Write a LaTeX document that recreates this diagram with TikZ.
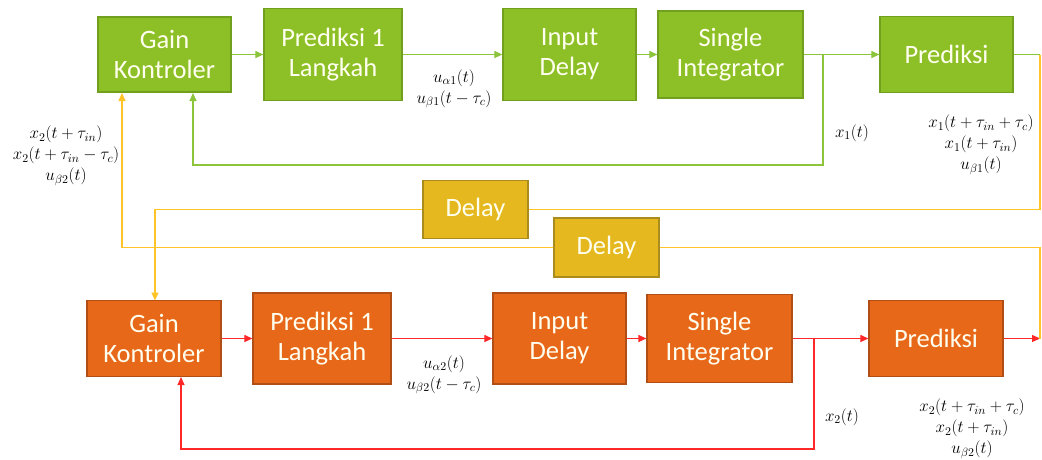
\documentclass[tikz,border=0pt]{standalone}
\usepackage{fix-cm}
\usepackage{fontspec}
\setmainfont{Carlito}
\usetikzlibrary{arrows.meta}
\definecolor{gfill}{RGB}{141,192,38}
\definecolor{gdraw}{RGB}{112,160,30}
\definecolor{ofill}{RGB}{232,104,26}
\definecolor{odraw}{RGB}{176,78,22}
\definecolor{yfill}{RGB}{228,184,30}
\definecolor{ydraw}{RGB}{170,140,30}
\definecolor{gline}{RGB}{140,196,60}
\definecolor{yline}{RGB}{255,196,40}
\definecolor{rline}{RGB}{255,40,40}
\definecolor{txt}{RGB}{255,255,240}
\begin{document}
\begin{tikzpicture}[x=1pt,y=-1pt,
  blk/.style={draw, line width=1.2pt, text=txt, align=center, inner sep=0pt,
    font=\fontsize{26.5}{30}\selectfont},
  gblk/.style={blk, fill=gfill, draw=gdraw},
  oblk/.style={blk, fill=ofill, draw=odraw},
  yblk/.style={blk, fill=yfill, draw=ydraw},
  garr/.style={draw=gline, line width=1.1pt},
  rarr/.style={draw=rline, line width=1.1pt},
  yarr/.style={draw=yline, line width=1.1pt},
  tip/.style={-{Triangle[length=8pt,width=7pt]}},
  lbl/.style={align=center, inner sep=0pt, font=\fontsize{17}{21}\selectfont}
]
\useasboundingbox (0,0) rectangle (1042,459);

% top row
\node[gblk, minimum width=133pt, minimum height=75pt] (g1) at (164.5,54.5) {Gain\\Kontroler};
\node[gblk, minimum width=138pt, minimum height=92pt] (p1) at (333,54.5) {Prediksi 1\\Langkah};
\node[gblk, minimum width=133pt, minimum height=92pt] (d1) at (569.5,54.5) {Input\\Delay};
\node[gblk, minimum width=145pt, minimum height=87pt] (s1) at (730.5,54.5) {Single\\Integrator};
\node[gblk, minimum width=133pt, minimum height=76pt] (r1) at (946.5,54.5) {Prediksi};

% bottom row
\node[oblk, minimum width=134pt, minimum height=76pt] (g2) at (154,338.5) {Gain\\Kontroler};
\node[oblk, minimum width=138pt, minimum height=91pt] (p2) at (322,338.5) {Prediksi 1\\Langkah};
\node[oblk, minimum width=133pt, minimum height=91pt] (d2) at (559.5,338.5) {Input\\Delay};
\node[oblk, minimum width=145pt, minimum height=88pt] (s2) at (719.5,338.5) {Single\\Integrator};
\node[oblk, minimum width=134pt, minimum height=76pt] (r2) at (936,338.5) {Prediksi};

% delays
\node[yblk, minimum width=105pt, minimum height=58pt] (dl1) at (475.5,209.5) {Delay};
\node[yblk, minimum width=105pt, minimum height=59pt] (dl2) at (606.5,247.5) {Delay};

% coordinates
\coordinate (b1) at (823,54.5);
\coordinate (b2) at (814,338.5);
\coordinate (e1) at (1040,54.5);
\coordinate (e2) at (1040,338.5);

% green connectors
\draw[garr, tip] (g1) -- (p1);
\draw[garr, tip] (p1) -- (d1);
\draw[garr, tip] (d1) -- (s1);
\draw[garr, tip] (s1) -- (r1);
\draw[garr] (r1) -- (e1);
\draw[garr, tip] (b1) -- (823,165) -- (193,165) -- (193,93);

% red connectors
\draw[rarr, tip] (g2) -- (p2);
\draw[rarr, tip] (p2) -- (d2);
\draw[rarr, tip] (d2) -- (s2);
\draw[rarr, tip] (s2) -- (r2);
\draw[rarr, tip] (r2) -- (e2);
\draw[rarr, tip] (b2) -- (814,449) -- (181,449) -- (181,377);

% yellow connectors
\draw[yarr] (e1) -- (1040,209.5) -- (dl1);
\draw[yarr, tip] (dl1) -- (155,209.5) -- (155,300.5);
\draw[yarr] (e2) -- (1040,247.5) -- (dl2);
\draw[yarr, tip] (dl2) -- (122,247.5) -- (122,93);

% labels
\node[lbl] (l1) at (454,89) {$u_{\alpha1}(t)$\\$u_{\beta1}(t-\tau_c)$};
\node[lbl] (l2) at (444,375) {$u_{\alpha2}(t)$\\$u_{\beta2}(t-\tau_c)$};
\node[lbl] (l3) at (852,133) {$x_1(t)$};
\node[lbl] (l4) at (842,417) {$x_2(t)$};
\node[lbl] (l5) at (981,145) {$x_1(t+\tau_{in}+\tau_c)$\\$x_1(t+\tau_{in})$\\$u_{\beta1}(t)$};
\node[lbl] (l6) at (972,429) {$x_2(t+\tau_{in}+\tau_c)$\\$x_2(t+\tau_{in})$\\$u_{\beta2}(t)$};
\node[lbl] (l7) at (66,156) {$x_2(t+\tau_{in})$\\$x_2(t+\tau_{in}-\tau_c)$\\$u_{\beta2}(t)$};
\end{tikzpicture}
\end{document}
